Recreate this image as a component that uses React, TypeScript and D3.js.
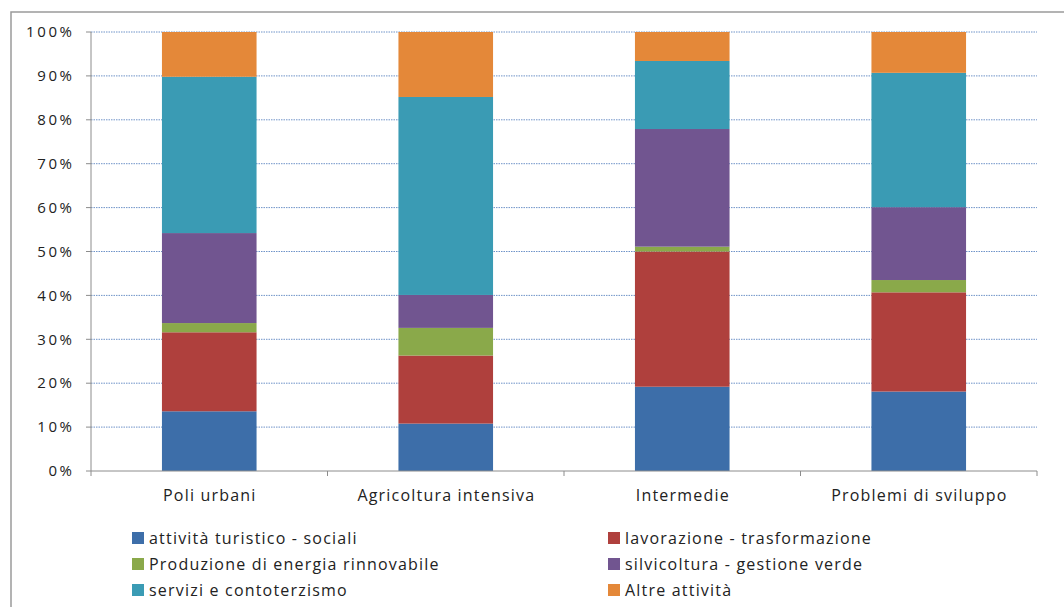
import React from "react";
import * as d3 from "d3";

const categories = ["Poli urbani", "Agricoltura intensiva", "Intermedie", "Problemi di sviluppo"];
const seriesNames = [
  "attività turistico - sociali",
  "lavorazione - trasformazione",
  "Produzione di energia rinnovabile",
  "silvicoltura - gestione verde",
  "servizi e contoterzismo",
  "Altre attività",
];
const seriesColors = ["#3D6EA9", "#AF403D", "#8AA94A", "#715590", "#3A9BB4", "#E48839"];
const turistico = [13.6, 10.8, 19.2, 18.1];
const lavorazione = [18.0, 15.5, 30.8, 22.6];
const energia = [2.1, 6.3, 1.1, 2.8];
const silvicoltura = [20.5, 7.5, 26.8, 16.6];
const servizi = [35.6, 45.1, 15.5, 30.6];
const altre = [10.2, 14.8, 6.6, 9.3];
const yTicks = [0, 10, 20, 30, 40, 50, 60, 70, 80, 90, 100];

const FONT = "'Open Sans', 'DejaVu Sans', sans-serif";
const LS = 1.2;
const LS_TICK = 2.6;

export default function App() {
  const W = 1064, H = 607;
  const left = 91, right = 1037, top = 32, bottom = 471;
  const values = [turistico, lavorazione, energia, silvicoltura, servizi, altre];
  const rows = categories.map((c, i) => {
    const r: any = { cat: c };
    seriesNames.forEach((s, j) => (r[s] = values[j][i]));
    return r;
  });
  const stacked = d3.stack().keys(seriesNames).offset(d3.stackOffsetExpand)(rows);
  const x = d3.scaleBand().domain(categories).range([left, right]).paddingInner(0.6).paddingOuter(0.3);
  const xb = d3.scaleBand().domain(categories).range([left, right]);
  const y = d3.scaleLinear().domain([0, 1]).range([bottom, top]);

  const legendPos = [
    [132, 538], [608, 538],
    [132, 564], [608, 564],
    [132, 590], [608, 590],
  ];

  return (
    <svg width={W} height={H} style={{ position: "absolute", left: 0, top: 0, background: "#fff" }}>
      <rect x={11} y={12} width={W + 10} height={H + 10} fill="#fff" stroke="#9a9a9a" strokeWidth={1.5} />
      {yTicks.map((t) => (
        <g key={t}>
          {t > 0 && (
            <line x1={left} x2={right} y1={y(t / 100)} y2={y(t / 100)} stroke="#6f93c8" strokeWidth={1} strokeDasharray="1.5,1" />
          )}
          <line x1={left - 5} x2={left} y1={y(t / 100)} y2={y(t / 100)} stroke="#8c8c8c" />
          <text x={72 + LS_TICK} y={y(t / 100)} dy="0.35em" textAnchor="end" fontFamily={FONT} fontSize={15} letterSpacing={LS_TICK} fill="#222">
            {t}%
          </text>
        </g>
      ))}
      {stacked.map((s, j) => (
        <g key={s.key} fill={seriesColors[j]}>
          {s.map((d, i) => (
            <rect key={i} x={x(categories[i])} width={x.bandwidth()} y={y(d[1])} height={y(d[0]) - y(d[1])} />
          ))}
        </g>
      ))}
      <line x1={left} x2={left} y1={top} y2={bottom} stroke="#8c8c8c" />
      <line x1={left} x2={right} y1={bottom} y2={bottom} stroke="#8c8c8c" />
      {[...categories.map((c) => xb(c)!), right].map((px, i) => (
        <line key={i} x1={px} x2={px} y1={bottom} y2={bottom + 5} stroke="#8c8c8c" />
      ))}
      {categories.map((c) => (
        <text key={c} x={xb(c)! + xb.bandwidth() / 2 + LS / 2} y={495} dy="0.35em" textAnchor="middle" fontFamily={FONT} fontSize={16} letterSpacing={LS} fill="#222">
          {c}
        </text>
      ))}
      {seriesNames.map((s, j) => {
        const [lx, ly] = legendPos[j];
        return (
          <g key={s}>
            <rect x={lx} y={ly - 6} width={12} height={12} fill={seriesColors[j]} />
            <text x={lx + 17} y={ly} dy="0.35em" fontFamily={FONT} fontSize={16} letterSpacing={LS} fill="#222">
              {s}
            </text>
          </g>
        );
      })}
    </svg>
  );
}
